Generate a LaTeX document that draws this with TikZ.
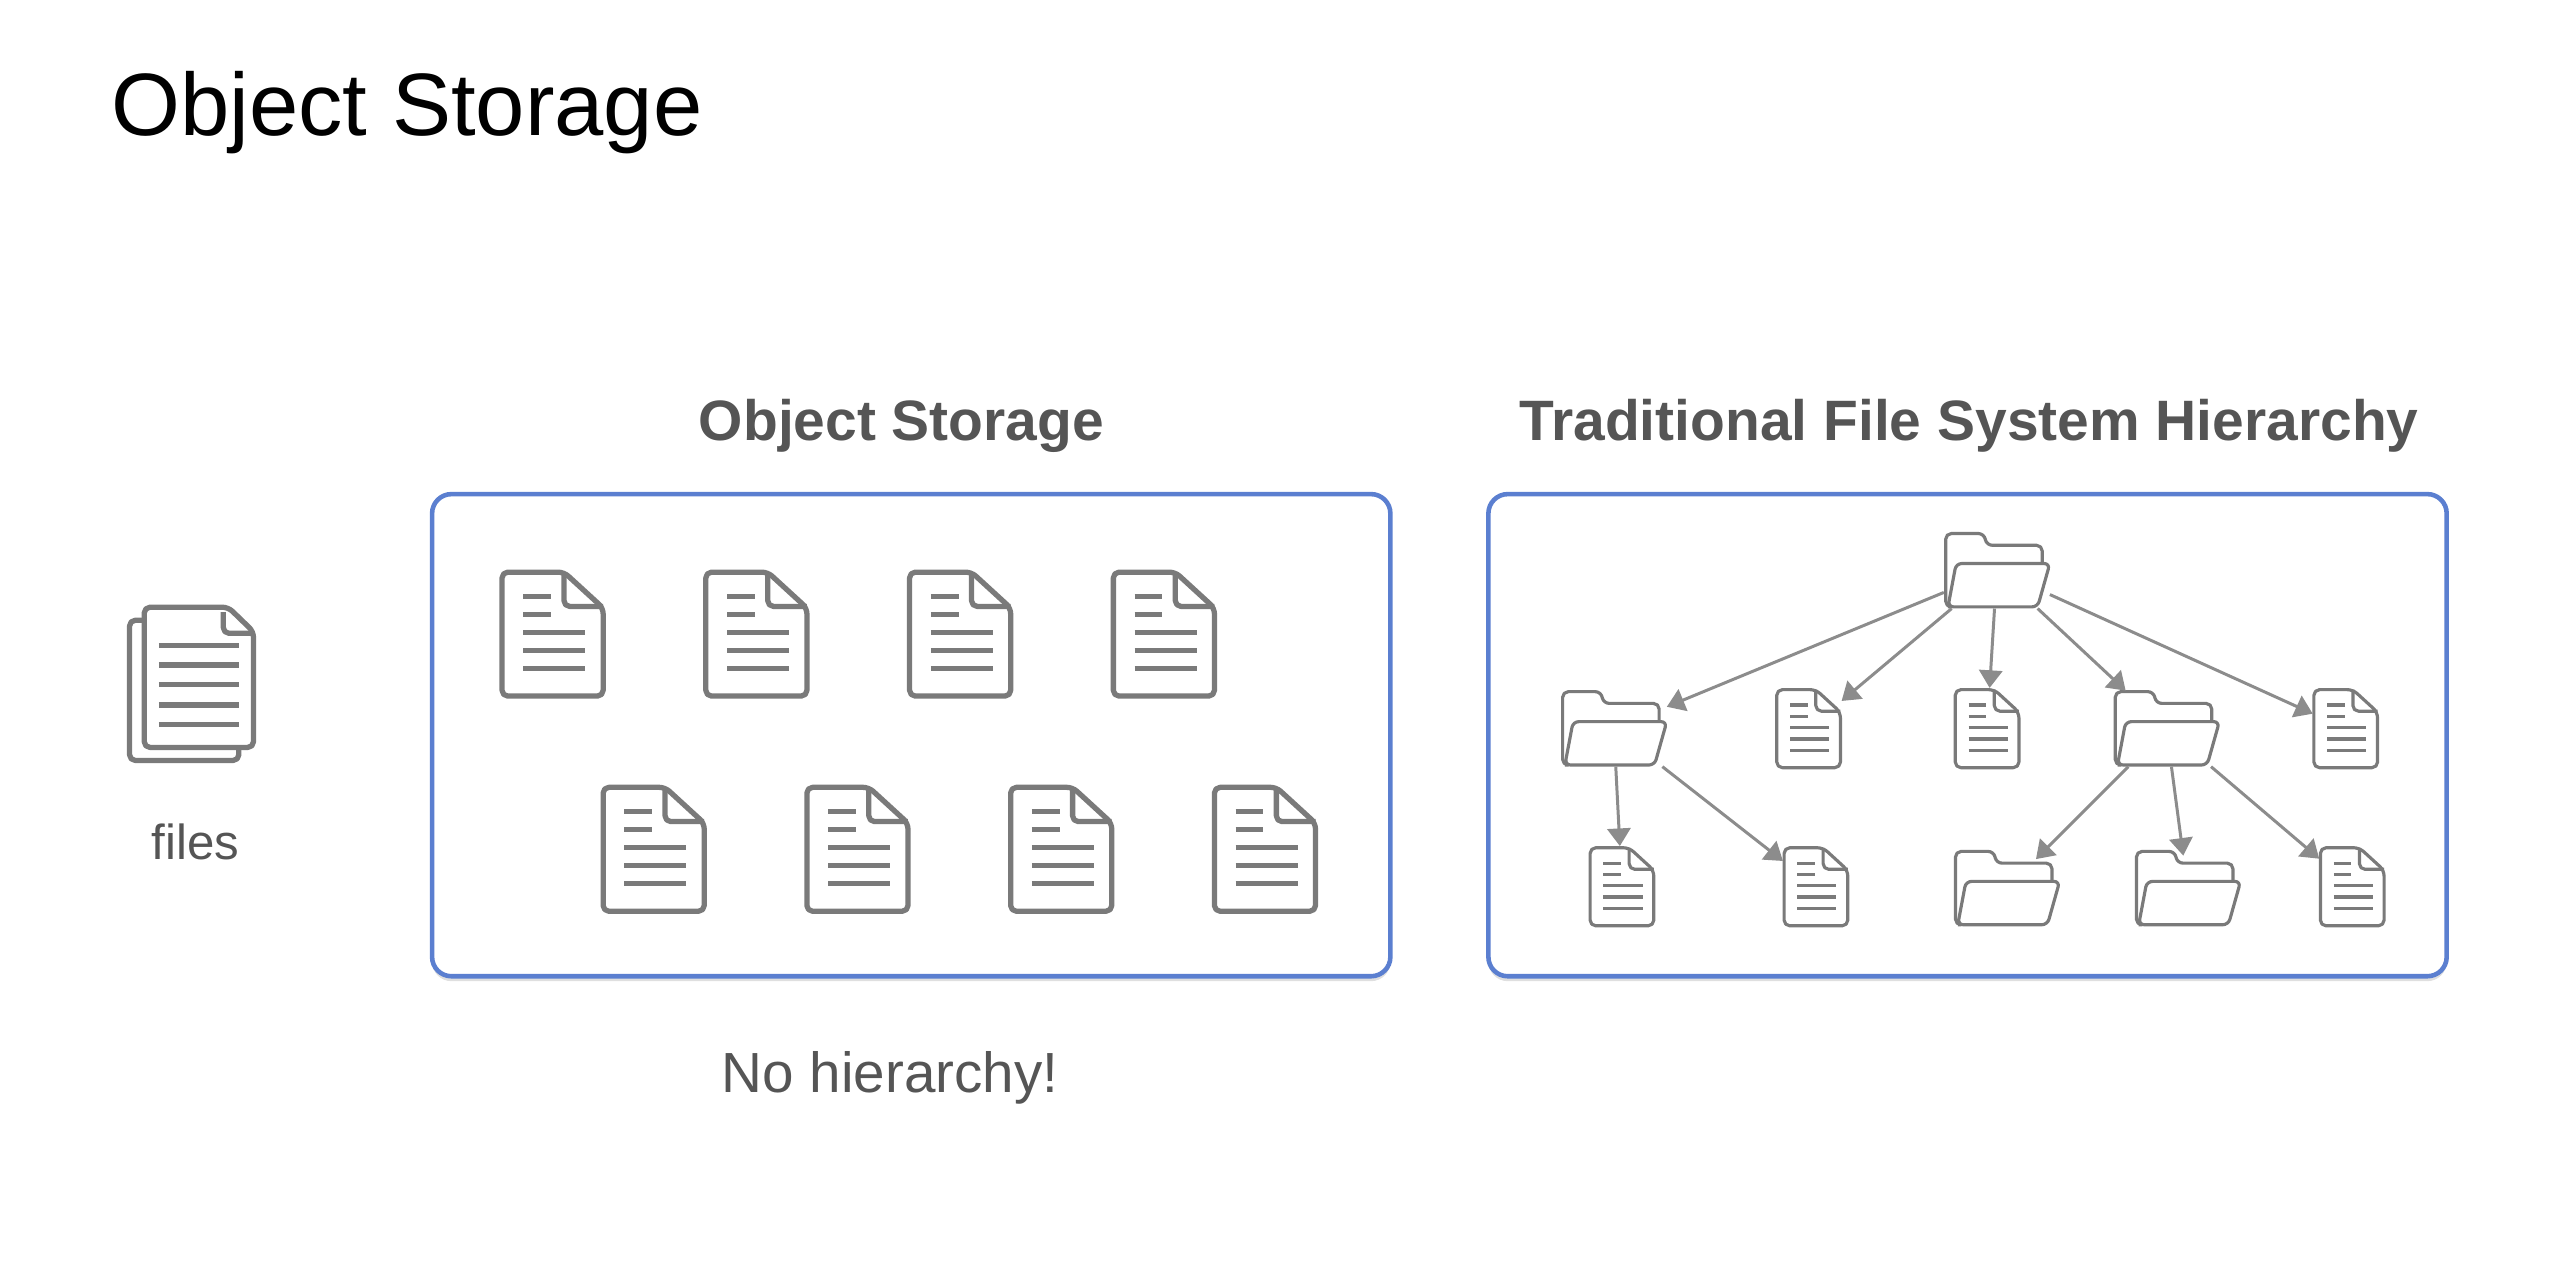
\documentclass[tikz,border=0pt]{standalone}
\usepackage{fontspec}
\setmainfont{Liberation Sans}
\usetikzlibrary{arrows.meta,shadows}
\definecolor{icongray}{HTML}{7A7A7A}
\definecolor{arrowgray}{HTML}{8C8C8C}
\definecolor{textgray}{HTML}{555555}
\definecolor{boxblue}{HTML}{5B7FD0}
\tikzset{
    icon-line/.style={draw=icongray, line join=round, rounded corners=1.6pt},
    pics/doc-icon/.style={code={
        \draw[icon-line, fill=white] (7,-38) -- (-31,-38) -- (-31,38) -- (31,38) -- (31,-16) -- cycle;
        \draw[icon-line] (7,-38) -- (7,-17) -- (31,-17);
        \foreach \y in {-23,-12} \draw[icongray] (-18,\y) -- (-1,\y);
        \foreach \y in {-1,10,21} \draw[icongray] (-18,\y) -- (20,\y);
    }},
    pics/folder-icon/.style={code={
        \draw[icon-line] (-30,22.3) -- (-31.4,22.3) -- (-31.4,-22.7) -- (-7.9,-22.7) -- (-6.3,-15.5) -- (27.8,-15.5) -- (27.8,-4.3);
        \draw[icon-line] (-25,-4.3) -- (32.5,-4.3) -- (25,22.3) -- (-30,22.3) -- cycle;
    }},
    pics/page-icon/.style={code={
        \draw[icon-line, fill=white] (18,-43) -- (-33.5,-43) -- (-33.5,43) -- (33.5,43) -- (33.5,-28) -- cycle;
        \draw[icon-line] (15,-40) -- (15,-27) -- (33.5,-27);
        \foreach \y in {-19.6,-7.6,4.5,17,29} \draw[icongray] (-24.5,\y) -- (24.5,\y);
    }},
    doc-node/.style={minimum width=0.66cm, minimum height=0.815cm, inner sep=0pt, outer sep=0pt},
    folder-node/.style={minimum width=1.06cm, minimum height=0.76cm, inner sep=0pt, outer sep=0pt},
    store-box/.style={draw=boxblue, line width=1.3pt, rounded corners=5.5pt, fill=white,
        minimum width=9.58cm, minimum height=4.82cm,
        drop shadow={opacity=0.25, shadow xshift=0pt, shadow yshift=-1.4pt}},
    head-text/.style={text=textgray, font=\fontsize{16.2}{18}\selectfont\bfseries},
    plain-text/.style={text=textgray, anchor=base},
    link/.style={draw=arrowgray, line width=0.85pt, -{Triangle[length=5pt,width=6.6pt]}},
}
\begin{document}
\begin{tikzpicture}[x=0.0163cm, y=-0.0163cm]
    \useasboundingbox (0,0) rectangle (1568,779);

    \node[anchor=base west, inner sep=0pt, font=\fontsize{25.2}{28}\selectfont] (title) at (68,83) {Object Storage};
    \node[head-text, anchor=base] (objhead) at (553,270) {Object Storage};
    \node[head-text, anchor=base] (fshead) at (1208,270) {Traditional File System Hierarchy};
    \node[plain-text, font=\fontsize{14}{16}\selectfont] (files) at (120,527) {files};
    \node[plain-text, font=\fontsize{16.1}{18}\selectfont] (nohier) at (546,670) {No hierarchy!};

    \node[store-box] (objbox) at (559,451) {};
    \node[store-box] (fsbox) at (1207,451) {};

    % Files on the left
    \pic[line width=1.5pt] at (113,423.5) {page-icon};
    \pic[line width=1.5pt] at (122,415.5) {page-icon};

    % Objects, no order
    \foreach \x in {339,464,589,714} \pic[line width=1.5pt] at (\x,389) {doc-icon};
    \foreach \x in {401,526,651,776} \pic[line width=1.5pt] at (\x,521) {doc-icon};

    % Tree nodes
    \node[folder-node] (R) at (1225,350) {};
    \node[folder-node] (A) at (990,447) {};
    \node[folder-node] (B) at (1329,447) {};
    \node[folder-node] (C) at (1231,545) {};
    \node[folder-node] (E) at (1342,545) {};
    \node[doc-node] (P) at (1109.5,447) {};
    \node[doc-node] (Q) at (1219,447) {};
    \node[doc-node] (S) at (1439,447) {};
    \node[doc-node] (T) at (995,544) {};
    \node[doc-node] (U) at (1114,544) {};
    \node[doc-node] (V) at (1443,544) {};

    \foreach \n in {R,A,B,C,E} \pic[line width=0.9pt] at (\n) {folder-icon};
    \foreach \n in {P,Q,S,T,U,V} \pic[scale=0.63, line width=0.9pt] at (\n) {doc-icon};

    % Edges
    \draw[link] (R) -- (A);
    \draw[link] (R) -- (P);
    \draw[link] (R) -- (Q);
    \draw[link] (R) -- (B);
    \draw[link] (R) -- (S);
    \draw[link] (A) -- (T);
    \draw[link] (A) -- (U);
    \draw[link, shorten >=-3.5pt] (B) -- (C);
    \draw[link, shorten >=-1.5pt] (B) -- (E);
    \draw[link] (B) -- (V);
\end{tikzpicture}
\end{document}
